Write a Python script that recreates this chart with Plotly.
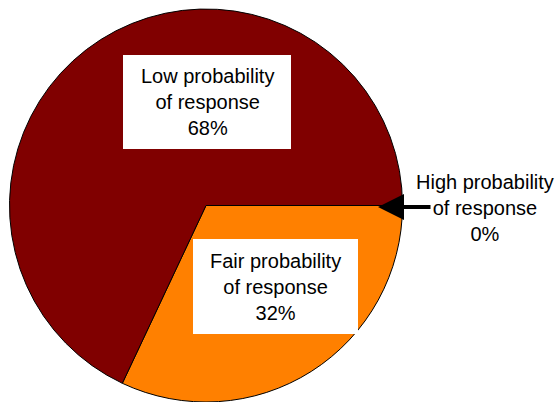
import plotly.graph_objects as go

W, H = 559, 402

# Response probability breakdown
labels = ["High probability<br>of response", "Fair probability<br>of response", "Low probability<br>of response"]
shares = [0, 32, 68]
colors = ["#FFFFFF", "#FF8000", "#800000"]

FONT = dict(family="Arial, 'Liberation Sans', sans-serif", size=20, color="#000000")


def fx(px):
    return px / W


def fy(py):
    return 1 - py / H


fig = go.Figure(
    go.Pie(
        labels=labels,
        values=shares,
        sort=False,
        direction="clockwise",
        rotation=90,
        marker=dict(colors=colors, line=dict(color="#000000", width=1)),
        textinfo="none",
        hoverinfo="label+percent",
        domain=dict(x=[fx(9), fx(403)], y=[0, fy(9)]),
        showlegend=False,
    )
)

# White label boxes for the two visible slices
boxes = {1: (193, 239, 358, 334), 2: (123, 55, 291, 149)}
shapes = []
annotations = []
for i, (x0, y0, x1, y1) in boxes.items():
    shapes.append(dict(type="rect", xref="paper", yref="paper",
                       x0=fx(x0), x1=fx(x1), y0=fy(y1), y1=fy(y0),
                       fillcolor="#FFFFFF", line=dict(width=0), layer="above"))
    annotations.append(dict(xref="paper", yref="paper",
                            x=fx((x0 + x1) / 2), y=fy((y0 + y1) / 2),
                            text=f"{labels[i]}<br>{shares[i]}%",
                            showarrow=False, font=FONT, align="center",
                            xanchor="center", yanchor="middle"))

# Label for the empty slice, placed outside the pie with an arrow
annotations.append(dict(xref="paper", yref="paper", x=fx(485), y=fy(208),
                        text=f"{labels[0]}<br>{shares[0]}%",
                        showarrow=False, font=FONT, align="center",
                        xanchor="center", yanchor="middle"))
annotations.append(dict(xref="paper", yref="paper", axref="pixel", ayref="pixel",
                        x=fx(378), y=fy(207), ax=54, ay=0, text="",
                        showarrow=True, arrowhead=2, arrowsize=1.3, arrowwidth=4,
                        arrowcolor="#000000", standoff=0))

fig.update_layout(
    width=W, height=H,
    margin=dict(l=0, r=0, t=0, b=0),
    paper_bgcolor="#FFFFFF",
    plot_bgcolor="#FFFFFF",
    shapes=shapes,
    annotations=annotations,
)

fig.write_html("out.html")
